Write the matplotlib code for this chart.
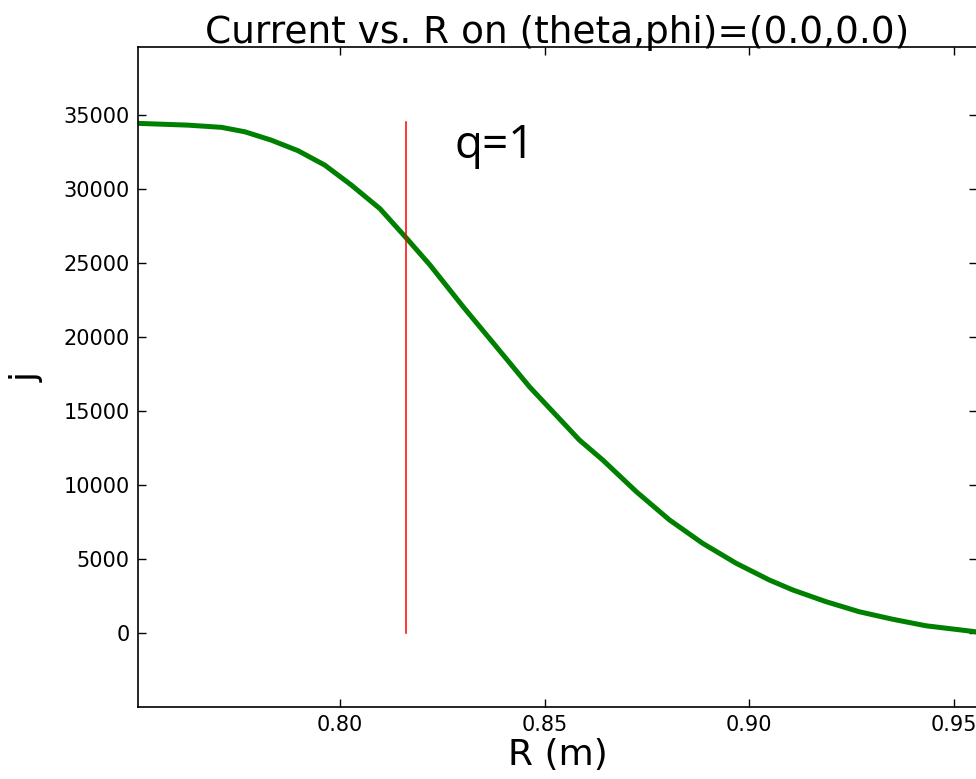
import numpy as np
import matplotlib.pyplot as plt

# radial profile of current density
R = [0.7507, 0.7629, 0.7711, 0.7768, 0.7832, 0.7898, 0.7963, 0.8028, 0.8098,
     0.8163, 0.8220, 0.8301, 0.8382, 0.8463, 0.8585, 0.8642, 0.8724,
     0.8805, 0.8886, 0.8968, 0.9049, 0.9106, 0.9187, 0.9268, 0.9350, 0.9431,
     0.9551, 0.9556]
j = [34440, 34320, 34170, 33870, 33310, 32590, 31620, 30270, 28670,
     26670, 24870, 22050, 19350, 16640, 13040, 11690, 9550,
     7640, 6060, 4710, 3580, 2910, 2120, 1440, 930, 490,
     90, 60]

q1_R = 0.8162
q1_top = 34500

fig = plt.figure(figsize=(9.76, 7.79), dpi=100)
ax = fig.add_axes([138/976, 1-707/779, (977-138)/976, (707-47)/779])

ax.plot(R, j, color='green', lw=3.6)
ax.plot([q1_R, q1_R], [0, q1_top], color='red', lw=1.1)
ax.text(0.8280, 32100, 'q=1', fontsize=33, family='Open Sans',
        ha='left', va='baseline')

ax.set_xlim(0.7507, 0.9556)
ax.set_ylim(-5000, 39600)
ax.set_xticks([0.80, 0.85, 0.90, 0.95])
ax.set_xticklabels(['0.80', '0.85', '0.90', '0.95'])
ax.set_yticks(np.arange(0, 35001, 5000))
ax.tick_params(direction='in', length=6, width=1, top=True, right=True,
               labelsize=15, pad=6)
for s in ax.spines.values():
    s.set_linewidth(1.2)

ax.set_title('Current vs. R on (theta,phi)=(0.0,0.0)', fontsize=27, pad=3)
ax.set_xlabel('R (m)', fontsize=26, labelpad=2)
ax.set_ylabel('j', fontsize=26, labelpad=14)

fig.savefig('out.png', dpi=100)
